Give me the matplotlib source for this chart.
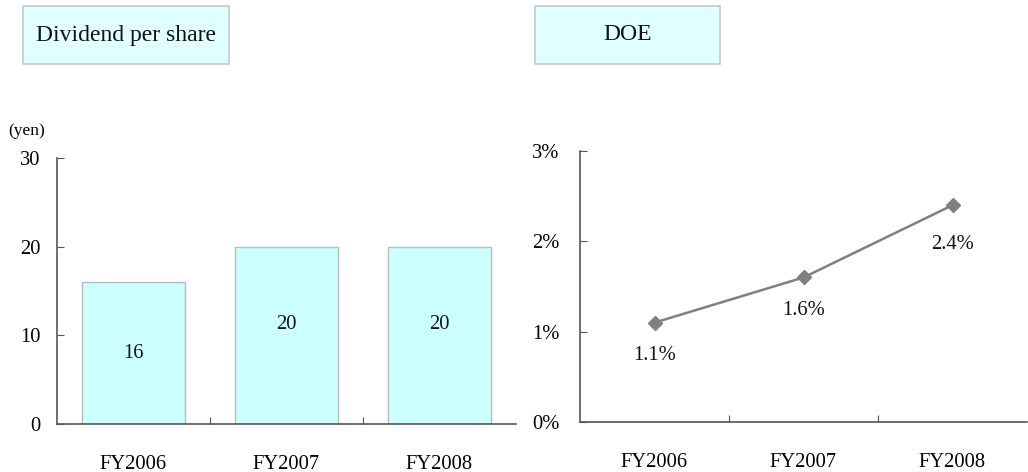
import matplotlib.pyplot as plt
from matplotlib.patches import Rectangle

# Data
years = ['FY2006', 'FY2007', 'FY2008']
dividend = [16, 20, 20]
doe = [1.1, 1.6, 2.4]

plt.rcParams['font.family'] = ['Liberation Serif', 'DejaVu Serif']

W, H = 1028, 472
fig = plt.figure(figsize=(W / 100, H / 100), dpi=100)


def px_axes(x0, y0, x1, y1):
    # axes placed by pixel box (top-left origin)
    return fig.add_axes([x0 / W, (H - y1) / H, (x1 - x0) / W, (y1 - y0) / H])


def title_box(x0, y0, x1, y1, text):
    fig.patches.append(Rectangle((x0 / W, (H - y1) / H), (x1 - x0) / W, (y1 - y0) / H,
                                 transform=fig.transFigure, facecolor='#E0FFFF',
                                 edgecolor='#C8C8C8', linewidth=1.2))
    fig.text((x0 + x1) / 2 / W, (H - (y0 + y1) / 2) / H, text, ha='center', va='center',
             fontsize=17, color='#111111')


def style_axes(ax):
    for s in ['top', 'right']:
        ax.spines[s].set_visible(False)
    for s in ['left', 'bottom']:
        ax.spines[s].set_color('#555555')
        ax.spines[s].set_linewidth(1.2)
    n = len(years)
    ax.set_xlim(-0.5, n - 0.5)
    # category boundary ticks (no labels), labels on centre ticks
    ax.set_xticks([i + 0.5 for i in range(n - 1)])
    ax.set_xticklabels([])
    ax.set_xticks(range(n), minor=True)
    ax.set_xticklabels(years, minor=True, fontsize=14.8)
    ax.tick_params(axis='x', which='major', direction='in', length=5, color='#555555')
    ax.tick_params(axis='x', which='minor', length=0, pad=22)
    ax.tick_params(axis='y', direction='in', length=5, color='#555555', labelsize=14.8)


# Dividend per share bars
title_box(23, 6, 229, 64, 'Dividend per share')
ax1 = px_axes(57, 158, 516, 424)
bars = ax1.bar(range(len(years)), dividend, width=0.667, color='#CCFFFF',
               edgecolor='#BBBBBB', linewidth=1.0)
ax1.set_ylim(0, 30)
ax1.set_yticks([0, 10, 20, 30])
style_axes(ax1)
ax1.tick_params(axis='y', pad=12)
label_y = [8, 11.2, 11.2]
for i, v in enumerate(dividend):
    ax1.text(i, label_y[i], f'{v}', ha='center', va='center', fontsize=14.8, color='#111111')
fig.text(8 / W, (H - 131) / H, '(yen)', fontsize=12.5, va='center', ha='left')

# DOE line
title_box(535, 6, 720, 64, 'DOE')
ax2 = px_axes(580, 151, 1027, 422)
ax2.plot(range(len(years)), doe, color='#808080', linewidth=1.8, marker='D',
         markersize=7, markerfacecolor='#808080', markeredgecolor='#808080')
ax2.set_ylim(0, 3)
ax2.set_yticks([0, 1, 2, 3])
ax2.set_yticklabels([f'{t}%' for t in [0, 1, 2, 3]])
style_axes(ax2)
ax2.tick_params(axis='y', pad=15)
label_dy = [-24, -24, -28]
for i, v in enumerate(doe):
    ax2.annotate(f'{v}%', (i, v), xytext=(0, label_dy[i]), textcoords='offset points',
                 ha='center', va='center', fontsize=14.8, color='#111111')

fig.savefig('out.png', dpi=100)
